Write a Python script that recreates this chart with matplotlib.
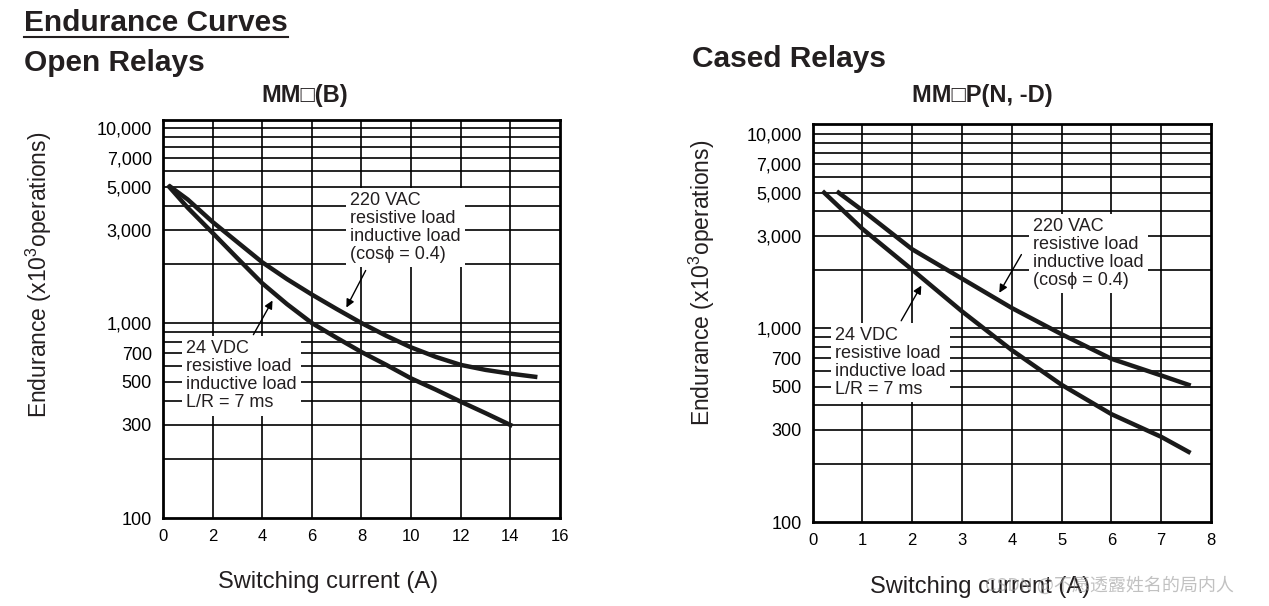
import matplotlib
matplotlib.use('Agg')
import matplotlib.pyplot as plt
from matplotlib.lines import Line2D

plt.rcParams['font.family'] = ['Liberation Sans', 'DejaVu Sans']
plt.rcParams['mathtext.fontset'] = 'custom'
plt.rcParams['mathtext.rm'] = 'Liberation Sans'
plt.rcParams['mathtext.it'] = 'Liberation Sans'

# open relays MM(B)
open_dc_x = [0.25, 1, 2, 3, 4, 5, 6, 7, 8, 9, 10, 11, 12, 13, 14]
open_dc_y = [5000, 3900, 2900, 2150, 1600, 1250, 1000, 840, 710, 610, 520, 455, 395, 345, 300]
open_ac_x = [0.3, 1, 2, 3, 4, 5, 6, 7, 8, 9, 10, 11, 12, 13, 14, 15]
open_ac_y = [5000, 4300, 3300, 2600, 2050, 1680, 1400, 1180, 1000, 860, 750, 670, 610, 575, 550, 530]

# cased relays MMP(N, -D)
cased_dc_x = [0.23, 1, 2, 3, 4, 5, 6, 7, 7.55]
cased_dc_y = [5000, 3250, 2000, 1220, 770, 510, 360, 275, 230]
cased_ac_x = [0.52, 1, 2, 3, 4, 5, 6, 7, 7.55]
cased_ac_y = [5000, 4050, 2550, 1800, 1270, 930, 695, 570, 510]

ytick_vals = [100, 300, 500, 700, 1000, 3000, 5000, 7000, 10000]
ytick_labels = ['100', '300', '500', '700', '1,000', '3,000', '5,000', '7,000', '10,000']
grid_vals = [200, 300, 400, 500, 600, 700, 800, 900, 1000,
             2000, 3000, 4000, 5000, 6000, 7000, 8000, 9000, 10000]

ac_text = '220 VAC\nresistive load\ninductive load\n(cos\u03d5 = 0.4)'
dc_text = '24 VDC\nresistive load\ninductive load\nL/R = 7 ms'

W, H = 1269, 606
fig = plt.figure(figsize=(12.69, 6.06), dpi=100)


def setup(ax, xmax, step, ytop, ylab_pos, xlab_pos):
    ax.set_yscale('log')
    ax.set_xlim(0, xmax)
    ax.set_ylim(100, ytop)
    ax.set_xticks(range(0, xmax + 1, step))
    ax.set_yticks(ytick_vals)
    ax.set_yticklabels(ytick_labels)
    ax.minorticks_off()
    ax.tick_params(length=0, labelsize=13)
    ax.tick_params(axis='x', labelsize=12, pad=8)
    ax.tick_params(axis='y', pad=8)
    for v in grid_vals:
        ax.axhline(v, color='black', lw=1.2, zorder=1)
    for v in range(step, xmax, step):
        ax.axvline(v, color='black', lw=1.2, zorder=1)
    for s in ax.spines.values():
        s.set_linewidth(2)
    ax.set_xlabel('Switching current (A)', fontsize=17, color='#231f20')
    ax.set_ylabel('Endurance (x10$^3$operations)', fontsize=16.5, color='#231f20')
    ax.yaxis.set_label_coords(*ylab_pos)
    ax.xaxis.set_label_coords(*xlab_pos)


box = dict(facecolor='white', edgecolor='none', pad=3)
arrow = dict(arrowstyle='-|>', color='black', lw=1, mutation_scale=12)
tkw = dict(fontsize=13, va='top', ha='left', linespacing=1.08, bbox=box, zorder=4,
           color='#231f20')

ax1 = fig.add_axes([0.1284, 0.1452, 0.3129, 0.6568])
setup(ax1, 16, 2, 11000, (-0.274, 0.61), (0.416, -0.133))
ax1.plot(open_ac_x, open_ac_y, color='#1a1a1a', lw=3.2, zorder=3)
ax1.plot(open_dc_x, open_dc_y, color='#1a1a1a', lw=3.2, zorder=3)
ax1.text(7.54, 4700, ac_text, **tkw)
ax1.text(0.93, 815, dc_text, **tkw)
ax1.annotate('', xy=(7.34, 1166), xytext=(8.22, 1914), arrowprops=arrow, zorder=5)
ax1.annotate('', xy=(4.47, 1343), xytext=(3.59, 847), arrowprops=arrow, zorder=5)

ax2 = fig.add_axes([0.6404, 0.1386, 0.3139, 0.6568])
setup(ax2, 8, 1, 11300, (-0.24, 0.60), (0.42, -0.136))
ax2.plot(cased_ac_x, cased_ac_y, color='#1a1a1a', lw=3.2, zorder=3)
ax2.plot(cased_dc_x, cased_dc_y, color='#1a1a1a', lw=3.2, zorder=3)
ax2.text(4.42, 3700, ac_text, **tkw)
ax2.text(0.45, 1015, dc_text, **tkw)
ax2.annotate('', xy=(3.72, 1479), xytext=(4.22, 2466), arrowprops=arrow, zorder=5)
ax2.annotate('', xy=(2.21, 1706), xytext=(1.75, 1061), arrowprops=arrow, zorder=5)

# subplot titles
fig.text(305 / W, 1 - 95 / H, 'MM\u25a1(B)', fontsize=17, fontweight='bold',
         ha='center', va='center', color='#231f20')
fig.text(982 / W, 1 - 95 / H, 'MM\u25a1P(N, -D)', fontsize=17, fontweight='bold',
         ha='center', va='center', color='#231f20')

# page headers
fig.text(24 / W, 1 - 23 / H, 'Endurance Curves', fontsize=21.5, fontweight='bold',
         va='center', ha='left', color='#231f20')
fig.add_artist(Line2D([24 / W, 288 / W], [1 - 37 / H, 1 - 37 / H],
                      color='#231f20', lw=1.5))
fig.text(24 / W, 1 - 63 / H, 'Open Relays', fontsize=21.5, fontweight='bold',
         va='center', ha='left', color='#231f20')
fig.text(692 / W, 1 - 59 / H, 'Cased Relays', fontsize=21.5, fontweight='bold',
         va='center', ha='left', color='#231f20')

fig.text(985 / W, 1 - 586 / H, 'CSDN @不愿透露姓名的局内人', fontsize=13,
         family=['Noto Sans CJK SC', 'DejaVu Sans'], color='#999999', alpha=0.6,
         va='center', ha='left')

fig.savefig('out.png', dpi=100)
